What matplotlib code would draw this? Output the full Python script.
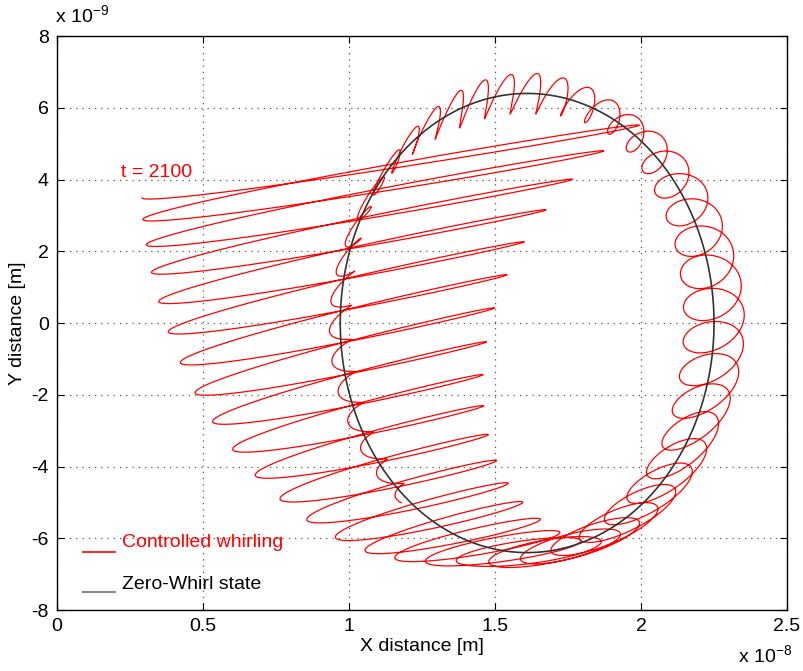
import numpy as np
import matplotlib.pyplot as plt

plt.rcParams['font.family'] = ['Liberation Sans', 'DejaVu Sans']

# zero-whirl orbit (m)
orbit_cx = 1.61e-8
orbit_cy = 0.0
orbit_r = 6.4e-9

# controlled run: orbit angle (deg) at start / end, orbit advance per whirl cycle
theta_start = 133.0
theta_end = 590.0
deg_per_cycle = 8.0

# whirl ellipse envelope along the orbit angle (deg): semi-axes (m) and tilt (deg)
env_theta = np.array([133, 137, 186, 243, 270, 300, 330, 372, 395, 420, 445, 470, 495, 520, 545, 590])
env_major = np.array([8.9, 8.6, 5.3, 2.95, 2.3, 1.6, 1.2, 1.0, 0.8, 0.45, 0.6, 0.65, 0.55, 0.45, 0.38, 0.3]) * 1e-9
env_minor = np.array([0.2, 0.2, 0.22, 0.25, 0.3, 0.4, 0.5, 0.68, 0.5, 0.3, 0.1, 0.08, 0.1, 0.12, 0.12, 0.1]) * 1e-9
env_tilt = np.array([7.7, 7.7, 10.6, 11.5, 6, 20, 30, 5, 10, 40, 65, 70, 60, 40, 15, 10])

xticks = [0, 0.5e-8, 1e-8, 1.5e-8, 2e-8, 2.5e-8]
xticklabels = ['0', '0.5', '1', '1.5', '2', '2.5']
yticks = [-8e-9, -6e-9, -4e-9, -2e-9, 0, 2e-9, 4e-9, 6e-9, 8e-9]
yticklabels = ['-8', '-6', '-4', '-2', '0', '2', '4', '6', '8']

# build the whirl trajectory
n_cycles = (theta_end - theta_start) / deg_per_cycle
s = np.linspace(0, n_cycles, int(n_cycles * 240))
deg = theta_start + deg_per_cycle * s
th = np.radians(deg)
phi = np.pi + 2 * np.pi * s
A = np.exp(np.interp(deg, env_theta, np.log(env_major)))
B = np.interp(deg, env_theta, env_minor)
beta = np.radians(np.interp(deg, env_theta, env_tilt))
u = A * np.cos(phi)
v = B * np.sin(phi)
x_ctrl = orbit_cx + orbit_r * np.cos(th) + u * np.cos(beta) - v * np.sin(beta)
y_ctrl = orbit_cy + orbit_r * np.sin(th) + u * np.sin(beta) + v * np.cos(beta)

t = np.linspace(0, 2 * np.pi, 400)
x_zero = orbit_cx + orbit_r * np.cos(t)
y_zero = orbit_cy + orbit_r * np.sin(t)

fig = plt.figure(figsize=(8.04, 6.71), dpi=100)
ax = fig.add_axes([0.0709, 0.0909, 0.908, 0.8554])

ax.plot(x_ctrl, y_ctrl, color='#ff0000', linewidth=0.9, zorder=3)
ax.plot(x_zero, y_zero, color='#333333', linewidth=1.2, zorder=4)

ax.set_xlim(0, 2.5e-8)
ax.set_ylim(-8e-9, 8e-9)
ax.set_xticks(xticks)
ax.set_xticklabels(xticklabels)
ax.set_yticks(yticks)
ax.set_yticklabels(yticklabels)
ax.tick_params(direction='in', top=True, right=True, labelsize=14, length=5, pad=6)
ax.grid(True, linestyle=(0, (1, 4)), color='#555555', linewidth=0.9)
ax.set_axisbelow(True)
for sp in ax.spines.values():
    sp.set_linewidth(1.0)

ax.set_xlabel('X distance [m]', fontsize=14, labelpad=2)
ax.set_ylabel('Y distance [m]', fontsize=14, labelpad=4)

fig.text(0.068, 0.965, r'x 10$^{\mathregular{-9}}$', fontsize=14)
fig.text(0.918, 0.012, r'x 10$^{\mathregular{-8}}$', fontsize=14)

ax.text(0.22e-8, 4.2e-9, 't = 2100', color='#ff0000', fontsize=14, va='center')

# legend drawn by hand
ax.plot([0.036, 0.079], [0.101, 0.101], transform=ax.transAxes, color='#ff0000', linewidth=1.2)
ax.text(0.089, 0.117, 'Controlled whirling', transform=ax.transAxes, color='#ff0000',
        fontsize=14, va='center')
ax.plot([0.036, 0.079], [0.031, 0.031], transform=ax.transAxes, color='#888888', linewidth=1.5)
ax.text(0.089, 0.044, 'Zero-Whirl state', transform=ax.transAxes, color='black',
        fontsize=14, va='center')

fig.savefig('out.png', dpi=100)
